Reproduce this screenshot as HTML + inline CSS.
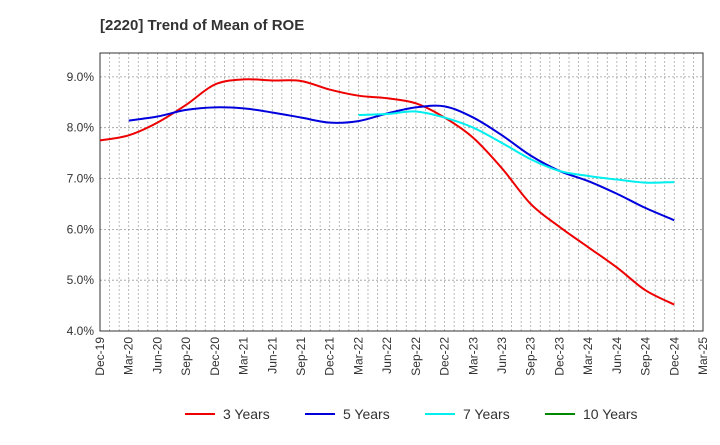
<!DOCTYPE html>
<html><head><meta charset="utf-8"><style>
body{margin:0;background:#fff;font-family:"Liberation Sans",Arial,sans-serif}
</style></head><body>
<svg id="c" width="720" height="440" xmlns="http://www.w3.org/2000/svg" font-family="Liberation Sans, Arial, sans-serif"></svg>
<script>
const categories=["Dec-19","Mar-20","Jun-20","Sep-20","Dec-20","Mar-21","Jun-21","Sep-21","Dec-21","Mar-22","Jun-22","Sep-22","Dec-22","Mar-23","Jun-23","Sep-23","Dec-23","Mar-24","Jun-24","Sep-24","Dec-24","Mar-25"];
const yTicks=[4,5,6,7,8,9];
const s3=[7.75,7.85,8.1,8.45,8.85,8.95,8.93,8.92,8.75,8.63,8.58,8.48,8.2,7.8,7.2,6.5,6.05,5.65,5.25,4.8,4.52];
const s5=[null,8.14,8.22,8.35,8.4,8.38,8.3,8.2,8.1,8.13,8.28,8.4,8.42,8.2,7.85,7.45,7.15,6.95,6.7,6.42,6.18];
const s7=[null,null,null,null,null,null,null,null,null,8.25,8.27,8.32,8.2,8.0,7.7,7.38,7.15,7.05,6.98,6.92,6.93];
const s10=[];
const svg=document.getElementById('c');const NS='http://www.w3.org/2000/svg';
const L=100,R=703,T=53,B=331,ymin=4,ymax=9.47;
const x=i=>L+(R-L)*i/(categories.length-1);
const y=v=>B-(v-ymin)/(ymax-ymin)*(B-T);
function el(t,a,p){const e=document.createElementNS(NS,t);for(const k in a)e.setAttribute(k,a[k]);(p||svg).appendChild(e);return e;}
const title=el('text',{x:100,y:30,'font-size':15,'font-weight':'bold',fill:'#333'});title.textContent='[2220]  Trend of Mean of ROE';


const g=el('g',{});


for(let m=1;m<(categories.length-1)*3;m++){const xx=L+(R-L)*m/((categories.length-1)*3);el('line',{x1:xx,x2:xx,y1:T,y2:B,stroke:'#aaa','stroke-dasharray':'2,2','stroke-width':0.8},g);}
yTicks.forEach(v=>{el('line',{x1:L,x2:R,y1:y(v),y2:y(v),stroke:'#999','stroke-dasharray':'2,2','stroke-width':0.8},g);
const t=el('text',{x:L-6,y:y(v)+4,'text-anchor':'end','font-size':12,fill:'#333'});t.textContent=v.toFixed(1)+'%';

});
categories.forEach((c,i)=>{const t=el('text',{transform:`translate(${x(i)+4},${B+6}) rotate(-90)`,'text-anchor':'end','font-size':12,fill:'#333'});t.textContent=c;

});
const frame=el('rect',{x:L,y:T,width:R-L,height:B-T,fill:'none',stroke:'#333','stroke-width':1});


function path(data,color,name){const pts=[];data.forEach((v,i)=>{if(v!=null)pts.push([x(i),y(v)]);});if(pts.length<2)return;
let d='M'+pts[0].join(',');for(let i=0;i<pts.length-1;i++){const p0=pts[i-1]||pts[i],p1=pts[i],p2=pts[i+1],p3=pts[i+2]||p2;
d+=`C${p1[0]+(p2[0]-p0[0])/6},${p1[1]+(p2[1]-p0[1])/6} ${p2[0]-(p3[0]-p1[0])/6},${p2[1]-(p3[1]-p1[1])/6} ${p2[0]},${p2[1]}`;}
const p=el('path',{d,fill:'none',stroke:color,'stroke-width':2});

}
path(s3,'#ee0000','line-3-years');path(s5,'#0000dd','line-5-years');path(s7,'#00eeee','line-7-years');path(s10,'#008800','line-10-years');
[['3 Years','#ee0000',185],['5 Years','#0000dd',305],['7 Years','#00eeee',425],['10 Years','#008800',545]].forEach(([n,c,lx])=>{
const lg=el('g',{});


el('line',{x1:lx,x2:lx+30,y1:414,y2:414,stroke:c,'stroke-width':2},lg);
const t=el('text',{x:lx+38,y:419,'font-size':14,fill:'#333'},lg);t.textContent=n;});
</script></body></html>
